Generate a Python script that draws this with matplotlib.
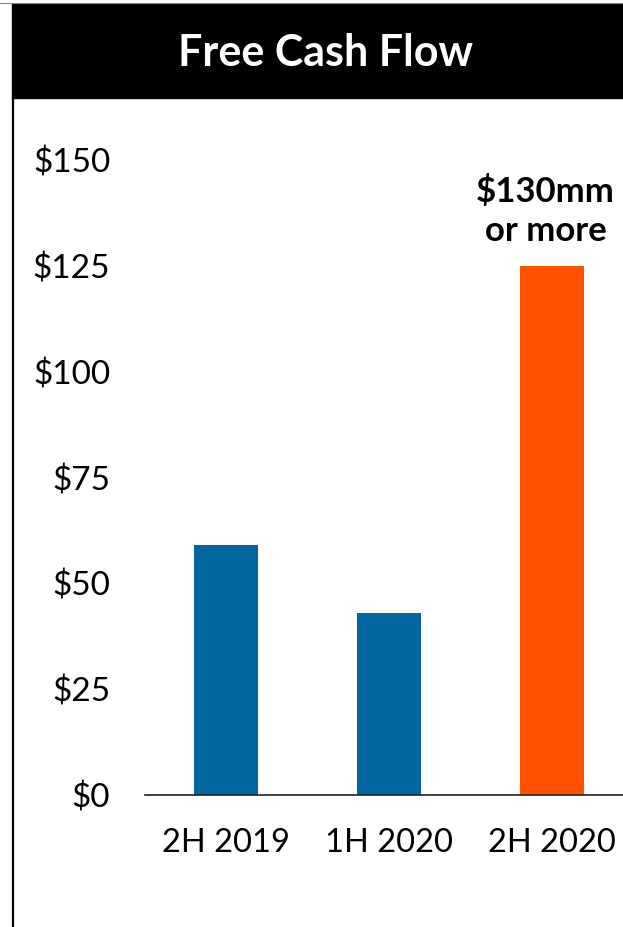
import matplotlib
matplotlib.use("Agg")
import matplotlib.pyplot as plt
from matplotlib.patches import Rectangle
from matplotlib.lines import Line2D

plt.rcParams['font.family'] = ['Lato', 'DejaVu Sans']

periods = ['2H 2019', '1H 2020', '2H 2020']
fcf = [59, 43, 125]
bar_colors = ['#0366A1', '#0366A1', '#FF5100']
yticks = [0, 25, 50, 75, 100, 125, 150]
ytick_labels = ['$' + str(v) for v in yticks]
note = '$130mm\nor more'

W, H = 623, 927
fig = plt.figure(figsize=(W / 100, H / 100), dpi=100)

# header bar and frame
fig.patches.append(Rectangle((12 / W, 1 - 98 / H), 1 - 12 / W, 94 / H,
                             transform=fig.transFigure, color='black', zorder=0))
fig.lines.append(Line2D([0, 1], [1 - 3 / H, 1 - 3 / H], transform=fig.transFigure,
                        color='#888888', lw=0.8))
fig.lines.append(Line2D([13 / W, 13 / W], [0, 1 - 98 / H], transform=fig.transFigure,
                        color='black', lw=1.6))
fig.text(325 / W, 1 - 53 / H, 'Free Cash Flow', color='white',
         fontsize=31, fontweight='bold', ha='center', va='center')

ax = fig.add_axes([145 / W, (H - 795) / H, (W - 145) / W, (795 - 160) / H])
x = list(range(len(periods)))
ax.bar(x, fcf, width=0.39, color=bar_colors)
ax.set_xlim(-0.497, 2.436)
ax.set_ylim(0, 150)
ax.set_yticks(yticks)
ax.set_yticklabels(ytick_labels)
ax.set_xticks(x)
ax.set_xticklabels(periods)
ax.tick_params(axis='both', length=0)
ax.tick_params(axis='y', pad=25, labelsize=24)
ax.tick_params(axis='x', pad=24, labelsize=23.5)
for s in ['top', 'right', 'left']:
    ax.spines[s].set_visible(False)
ax.spines['bottom'].set_color('#222222')
ax.spines['bottom'].set_linewidth(1.2)

ax.text(2 - 0.04, 138, note, ha='center', va='center', fontsize=25,
        fontweight='bold', linespacing=1.25, clip_on=False)

fig.savefig('out.png', dpi=100)
